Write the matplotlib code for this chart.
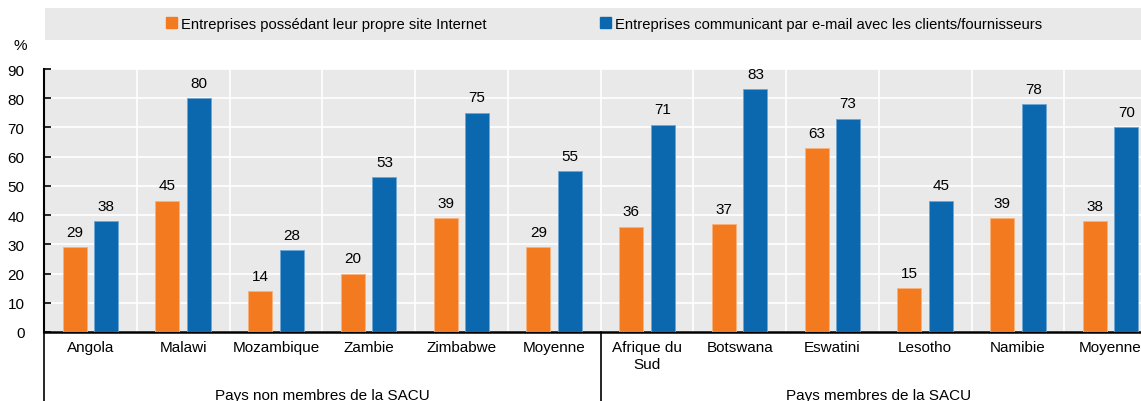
import matplotlib
matplotlib.use('Agg')
import matplotlib.pyplot as plt
import matplotlib.patches as mpatches
import matplotlib.transforms as mtransforms
import numpy as np

plt.rcParams['font.family'] = ['Liberation Sans', 'DejaVu Sans']

categories = ['Angola', 'Malawi', 'Mozambique', 'Zambie', 'Zimbabwe', 'Moyenne',
              'Afrique du\nSud', 'Botswana', 'Eswatini', 'Lesotho', 'Namibie', 'Moyenne']
site_web = [29, 45, 14, 20, 39, 29, 36, 37, 63, 15, 39, 38]
email = [38, 80, 28, 53, 75, 55, 71, 83, 73, 45, 78, 70]
groups = ['Pays non membres de la SACU', 'Pays membres de la SACU']
group_sizes = [6, 6]
series_names = ['Entreprises possédant leur propre site Internet',
                'Entreprises communicant par e-mail avec les clients/fournisseurs']

orange = '#f47a20'
blue = '#0b68ae'
bg = '#e9e9e9'
fs = 11

W, H = 1141, 402
fig = plt.figure(figsize=(W / 100, H / 100), dpi=100)
ax = fig.add_axes([44 / W, 69 / H, (1157 - 44) / W, 263 / H])
ax.set_facecolor(bg)

x = np.arange(len(categories))
bw = 0.26
off = 0.17
b1 = ax.bar(x - off, site_web, bw, color=orange, edgecolor='#f9b27c', linewidth=0.6, zorder=3)
b2 = ax.bar(x + off, email, bw, color=blue, edgecolor='#6fa6d4', linewidth=0.6, zorder=3)
for bars in (b1, b2):
    for r in bars:
        ax.annotate(f'{r.get_height():.0f}', (r.get_x() + r.get_width() / 2, r.get_height()),
                    xytext=(0, 6), textcoords='offset points', ha='center', va='bottom',
                    fontsize=fs)

ax.set_xlim(-0.5, len(categories) - 0.5)
ax.set_ylim(0, 90)
ax.set_yticks(range(0, 91, 10))
ax.set_xticks(x)
ax.set_xticklabels(categories, fontsize=fs, va='top')
ax.set_xticks(np.arange(0.5, len(categories) - 0.5, 1), minor=True)
ax.tick_params(axis='x', which='both', length=0, pad=6)
ax.tick_params(axis='y', direction='in', length=5, width=1.2, labelsize=fs, pad=14)
ax.grid(axis='y', which='major', color='white', linewidth=1.2, zorder=0)
ax.grid(axis='x', which='minor', color='white', linewidth=1.2, zorder=0)
ax.set_axisbelow(True)
for s in ['top', 'right']:
    ax.spines[s].set_visible(False)
ax.spines['left'].set_linewidth(1.5)
ax.spines['bottom'].set_linewidth(1.8)

# group separators and labels below the axis
trans = mtransforms.blended_transform_factory(ax.transData, ax.transAxes)
start = 0
for g, n in zip(groups, group_sizes):
    ax.plot([start - 0.5, start - 0.5], [0, -0.4], transform=trans, color='black',
            linewidth=1.2, clip_on=False)
    ax.text(start + (n - 1) / 2, -0.212, g, transform=trans, ha='center', va='top',
            fontsize=fs)
    start += n

fig.text(20 / W, 1 - 46 / H, '%', ha='center', va='center', fontsize=fs)

# legend band
fig.patches.append(mpatches.Rectangle((45 / W, 1 - 41 / H), 1, 32 / H, transform=fig.transFigure,
                                      facecolor=bg, edgecolor='none', zorder=0))
handles = [mpatches.Patch(color=orange), mpatches.Patch(color=blue)]
fig.legend(handles, series_names, loc='center', bbox_to_anchor=(604 / W, 1 - 25 / H), ncol=2,
           frameon=False, fontsize=fs * 0.97, handlelength=0.75, handleheight=0.75,
           handletextpad=0.3, columnspacing=7.6)

fig.savefig('out.png', dpi=100)
